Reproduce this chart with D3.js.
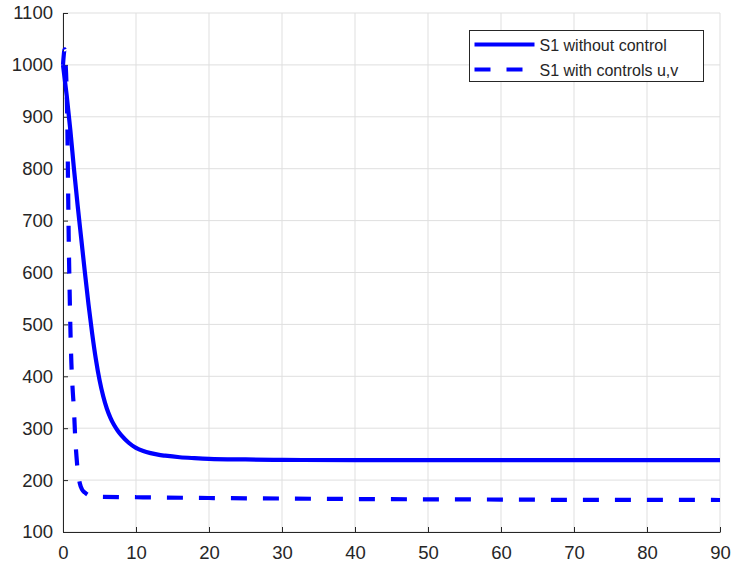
<!DOCTYPE html>
<html>
<head>
<meta charset="utf-8">
<script src="https://cdn.jsdelivr.net/npm/d3@7"></script>
<style>
  body { margin: 0; background: #fff; }
  svg { display: block; font-family: "Liberation Sans", Arial, sans-serif; }
</style>
</head>
<body>
<script>
// S1 curves
var tWithout = [0, 0.5, 1, 1.5, 2, 2.5, 3, 3.5, 4, 4.5, 5, 5.5, 6, 6.5, 7, 7.5, 8, 9, 10, 11, 12, 13, 14, 16, 18, 20, 25, 30, 40, 50, 60, 70, 80, 90];
var s1Without = [1000, 942, 875, 800, 730, 665, 600, 538, 482, 433, 393, 362, 338, 320, 306, 295, 286, 272, 262, 256, 252, 249, 247, 244, 242.3, 241, 239.8, 239, 238.5, 238.5, 238.5, 238.5, 238.5, 238.5];

var tWith = [0, 0.1, 0.22, 0.35, 0.5, 0.6, 0.7, 0.8, 0.9, 1.0, 1.15, 1.3, 1.5, 1.7, 1.85, 2.0, 2.3, 2.6, 3.0, 3.5, 4, 5, 10, 20, 30, 40, 50, 60, 70, 80, 90];
var s1With = [1000, 1018, 1030, 1005, 950, 880, 760, 650, 570, 500, 425, 380, 335, 275, 245, 220, 194, 182, 176, 171, 169, 168, 167, 165.5, 164.5, 163.5, 163, 162.5, 162, 162, 161.7];

var xTicks = [0, 10, 20, 30, 40, 50, 60, 70, 80, 90];
var yTicks = [100, 200, 300, 400, 500, 600, 700, 800, 900, 1000, 1100];
var legendLabels = ["S1 without control", "S1 with controls u,v"];

var width = 732, height = 566;
var margin = {top: 13, right: 12, bottom: 34, left: 63};
var w = width - margin.left - margin.right;
var h = height - margin.top - margin.bottom;
var axisColor = "#262626";

var svg = d3.select("body").append("svg")
    .attr("width", width)
    .attr("height", height);

var g = svg.append("g").attr("transform", `translate(${margin.left},${margin.top})`);

var x = d3.scaleLinear().domain([0, 90]).range([0, w]);
var y = d3.scaleLinear().domain([100, 1100]).range([h, 0]);

// grid
g.append("g").selectAll("line").data(xTicks).enter().append("line")
    .attr("x1", d => x(d)).attr("x2", d => x(d))
    .attr("y1", 0).attr("y2", h)
    .attr("stroke", "#dfdfdf").attr("stroke-width", 1);
g.append("g").selectAll("line").data(yTicks).enter().append("line")
    .attr("x1", 0).attr("x2", w)
    .attr("y1", d => y(d)).attr("y2", d => y(d))
    .attr("stroke", "#dfdfdf").attr("stroke-width", 1);

// axes
var xAxis = g.append("g")
    .attr("transform", `translate(0,${h})`)
    .call(d3.axisBottom(x).tickValues(xTicks).tickFormat(d3.format("d"))
      .tickSizeInner(-5).tickSizeOuter(0).tickPadding(14));
var yAxis = g.append("g")
    .call(d3.axisLeft(y).tickValues(yTicks).tickFormat(d3.format("d"))
      .tickSizeInner(-5).tickSizeOuter(0).tickPadding(10));

[xAxis, yAxis].forEach(function(a) {
  a.select(".domain").attr("stroke", axisColor);
  a.selectAll(".tick line").attr("stroke", axisColor);
  a.selectAll(".tick text")
    .attr("fill", axisColor)
    .style("font-size", "18.5px")
    .style("font-family", "'Liberation Sans', Arial, sans-serif");
});

// curves
var line = d3.line()
    .x(d => x(d[0]))
    .y(d => y(d[1]))
    .curve(d3.curveMonotoneX);

g.append("path")
    .datum(d3.zip(tWithout, s1Without))
    .attr("fill", "none")
    .attr("stroke", "#0000ff")
    .attr("stroke-width", 4.2)
    .attr("d", line);

g.append("path")
    .datum(d3.zip(tWith, s1With))
    .attr("fill", "none")
    .attr("stroke", "#0000ff")
    .attr("stroke-width", 4.2)
    .attr("stroke-dasharray", "16,16")
    .attr("d", line);

// legend
var leg = svg.append("g").attr("transform", "translate(469.5,30.5)");
leg.append("rect")
    .attr("width", 234).attr("height", 51)
    .attr("fill", "#fff")
    .attr("stroke", axisColor).attr("stroke-width", 1);

legendLabels.forEach(function(lab, i) {
  var cy = 14 + i * 25;
  leg.append("line")
    .attr("x1", 5).attr("x2", 65)
    .attr("y1", cy).attr("y2", cy)
    .attr("stroke", "#0000ff").attr("stroke-width", 4.2)
    .attr("stroke-dasharray", i === 1 ? "16,16" : null);
  leg.append("text")
    .attr("x", 70).attr("y", cy + 6)
    .attr("fill", axisColor)
    .style("font-size", "16px")
    .text(lab);
});
</script>
</body>
</html>
